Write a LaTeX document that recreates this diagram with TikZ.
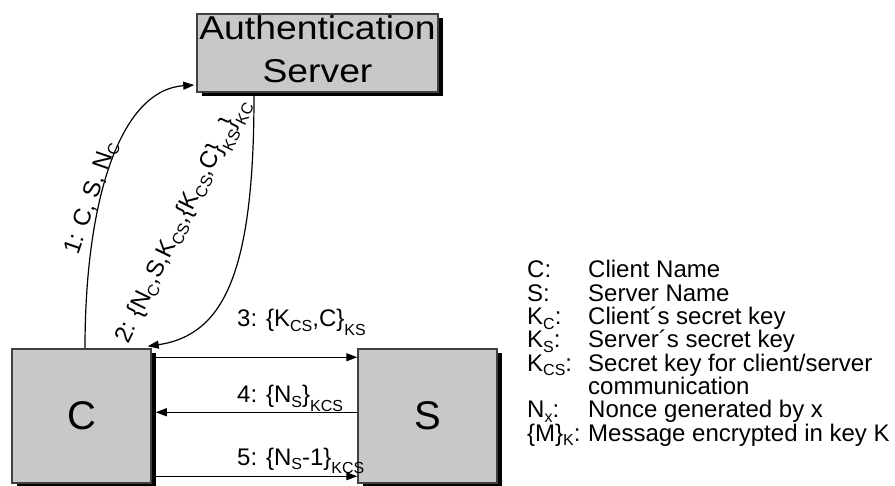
\documentclass[tikz,border=0pt]{standalone}
\usepackage{fontspec}
\setmainfont{Liberation Sans}
\usepackage{graphicx}
\usetikzlibrary{arrows.meta,shadows}
% subscripts: \lo for ordinary letters, \loo after a closing brace
\newcommand\lo[1]{\raisebox{-4.5pt}{\fontsize{16}{16}\selectfont #1}}
\newcommand\loo[1]{\raisebox{-9pt}{\fontsize{16}{16}\selectfont #1}}
\definecolor{boxgrey}{RGB}{200,200,200}
\definecolor{edgegrey}{RGB}{64,64,64}

\begin{document}
\begin{tikzpicture}[x=1pt,y=-1pt,
  party/.style={draw=edgegrey, line width=1.5pt, fill=boxgrey, inner sep=0pt,
    drop shadow={shadow xshift=4.5pt, shadow yshift=-4.5pt, opacity=1, fill=black}},
  msg/.style={line width=1.2pt, -{Triangle[length=11pt,width=8pt]}},
  lbl/.style={anchor=base west, inner sep=0pt, font=\fontsize{24}{24}\selectfont},
]
\useasboundingbox (0,0) rectangle (895,486);

% principals
\node[party, minimum width=241pt, minimum height=78pt, align=center,
      font=\fontsize{33}{43}\selectfont, text depth=7pt] (auth) at (317.5,53)
      {\scalebox{1.13}[1]{Authentication}\\\scalebox{1.13}[1]{Server}};
\node[party, minimum width=139pt, minimum height=134pt,
      font=\fontsize{40}{40}\selectfont] (C) at (81.5,416) {C};
\node[party, minimum width=139pt, minimum height=134pt,
      font=\fontsize{40}{40}\selectfont] (S) at (427.5,416) {S};

% messages with the authentication server
\draw[msg] ([xshift=3.5pt]C.north) .. controls (85,200) and (120,90) ..
           ([xshift=-2pt,yshift=-32pt]auth.west);
\draw[msg] ([xshift=-63.5pt,yshift=-3pt]auth.south) .. controls (254,270) and (225,335) ..
           ([xshift=-4pt,yshift=2pt]C.north east);

% messages between client and server
\draw[msg] ([xshift=4pt,yshift=-9pt]C.north east) -- ([yshift=-9pt]S.north west);
\draw[msg] ([yshift=-64pt]S.north west) -- ([xshift=4pt,yshift=-64pt]C.north east);
\draw[msg] ([xshift=4pt,yshift=-128pt]C.north east) -- ([yshift=-128pt]S.north west);

% message labels
\node[lbl, rotate=71] (m1) at (78,256) {1: C, S, N\lo{C}};
\node[lbl, rotate=64] (m2) at (128,345)
  {2: \{N\lo{C},S,K\lo{CS},\{K\lo{CS},C\}\loo{KS}\}\loo{KC}};
\node[lbl] (m3) at (237,327) {3: \{K\lo{CS},C\}\loo{KS}};
\node[lbl] (m4) at (237,403) {4: \{N\lo{S}\}\loo{KCS}};
\node[lbl] (m5) at (237,465) {5: \{N\lo{S}-1\}\loo{KCS}};

% legend
\node[lbl] (k1) at (527,278.0) {C:};
\node[lbl] (d1) at (588,278.0) {Client Name};
\node[lbl] (k2) at (527,301.3) {S:};
\node[lbl] (d2) at (588,301.3) {Server Name};
\node[lbl] (k3) at (527,324.7) {K\lo{C}:};
\node[lbl] (d3) at (588,324.7) {Client´s secret key};
\node[lbl] (k4) at (527,348.0) {K\lo{S}:};
\node[lbl] (d4) at (588,348.0) {Server´s secret key};
\node[lbl] (k5) at (527,371.3) {K\lo{CS}:};
\node[lbl] (d5) at (588,371.3) {Secret key for client/server};
\node[lbl] (d5b) at (588,394.7) {communication};
\node[lbl] (k6) at (527,418.0) {N\lo{x}:};
\node[lbl] (d6) at (588,418.0) {Nonce generated by x};
\node[lbl] (k7) at (527,441.3) {\{M\}\lo{K}:};
\node[lbl] (d7) at (588,441.3) {Message encrypted in key K};
\end{tikzpicture}
\end{document}
